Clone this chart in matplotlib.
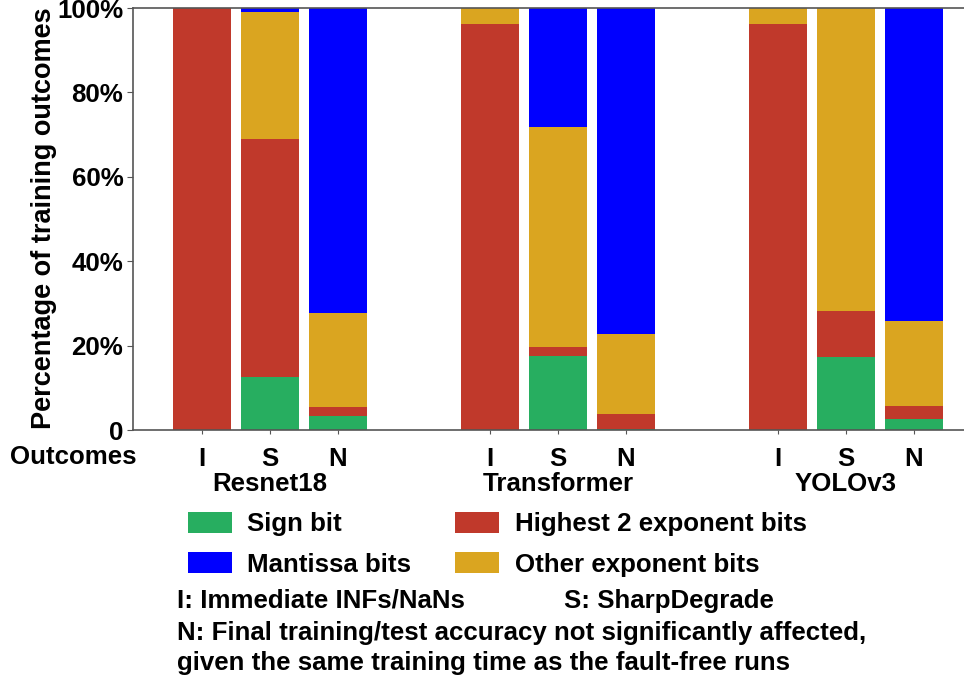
import matplotlib
matplotlib.use("Agg")
import matplotlib.pyplot as plt
import matplotlib.transforms as mtransforms
import numpy as np

plt.rcParams['font.family'] = ['Liberation Sans', 'DejaVu Sans']
plt.rcParams['font.weight'] = 'bold'

models = ["Resnet18", "Transformer", "YOLOv3"]
outcomes = ["I", "S", "N"]
# order: Resnet18 I,S,N ; Transformer I,S,N ; YOLOv3 I,S,N (percent)
sign_bit = [0, 12.6, 3.2, 0, 17.5, 0.3, 0, 17.4, 2.6]
highest2 = [100, 56.4, 2.3, 96.1, 2.1, 3.5, 96.2, 10.8, 3.2]
other_exp = [0, 30.0, 22.2, 3.9, 52.2, 18.9, 3.8, 71.8, 20.0]
mantissa = [0, 1.0, 72.3, 0, 28.2, 77.3, 0, 0, 74.2]

series = [("Sign bit", sign_bit, "#27ae60"),
          ("Highest 2 exponent bits", highest2, "#c0392b"),
          ("Other exponent bits", other_exp, "#daa520"),
          ("Mantissa bits", mantissa, "#0000ff")]

FS = 18.6
W, H = 964, 682
fig = plt.figure(figsize=(W / 100, H / 100), dpi=100)
ax = fig.add_axes([133 / W, (H - 430) / H, (W - 133) / W, 422 / H])

group_gap = 4.235
x = np.array([g * group_gap + j for g in range(3) for j in range(3)])
bottom = np.zeros(len(x))
handles = {}
for name, vals, col in series:
    v = np.array(vals)
    b = ax.bar(x, v, width=0.84, bottom=bottom, color=col, label=name, linewidth=0)
    handles[name] = b
    bottom += v

ax.set_xlim((133 - 202) / 68, (964 - 202) / 68)
ax.set_ylim(0, 100)
ax.set_yticks([0, 20, 40, 60, 80, 100])
ax.set_yticklabels(["0", "20%", "40%", "60%", "80%", "100%"], fontsize=FS, fontweight='bold')
ax.set_xticks(x)
ax.set_xticklabels(outcomes * 3, fontsize=FS, fontweight='bold')
ax.tick_params(axis='x', length=3, pad=9, color='#555555')
ax.tick_params(axis='y', length=4, pad=3, color='#555555')
ax.set_ylabel("Percentage of training outcomes", fontsize=19.5, fontweight='bold', va='center')
ax.yaxis.set_label_coords((44 - 133) / 831, (430 - 218) / 422)

for s in ['left', 'top', 'bottom']:
    ax.spines[s].set_color('#555555')
    ax.spines[s].set_linewidth(1.2)
ax.spines['right'].set_visible(False)

trans = mtransforms.blended_transform_factory(ax.transData, ax.transAxes)
for g, m in enumerate(models):
    ax.text(g * group_gap + 1, -0.127, m, transform=trans, ha='center', va='center',
            fontsize=FS, fontweight='bold')
fig.text(10 / W, 1 - 457 / H, "Outcomes", ha='left', va='center', fontsize=FS, fontweight='bold')

leg_handles = [handles["Sign bit"], handles["Mantissa bits"],
               handles["Highest 2 exponent bits"], handles["Other exponent bits"]]
leg_labels = ["Sign bit", "Mantissa bits", "Highest 2 exponent bits", "Other exponent bits"]
fig.legend(leg_handles, leg_labels, ncol=2, frameon=False, loc='upper left',
           bbox_to_anchor=(188 / W, 1 - 512 / H), prop={'size': FS, 'weight': 'bold'},
           handlelength=1.7, handleheight=0.85, handletextpad=0.6, columnspacing=1.7,
           labelspacing=0.62, borderpad=0, borderaxespad=0)

fig.text(177 / W, 1 - 608 / H, "I: Immediate INFs/NaNs", ha='left', va='baseline', fontsize=FS, fontweight='bold')
fig.text(564 / W, 1 - 608 / H, "S: SharpDegrade", ha='left', va='baseline', fontsize=FS, fontweight='bold')
fig.text(177 / W, 1 - 640 / H, "N: Final training/test accuracy not significantly affected,",
         ha='left', va='baseline', fontsize=FS, fontweight='bold')
fig.text(177 / W, 1 - 670 / H, "given the same training time as the fault-free runs",
         ha='left', va='baseline', fontsize=FS, fontweight='bold')

fig.savefig("out.png", dpi=100)
